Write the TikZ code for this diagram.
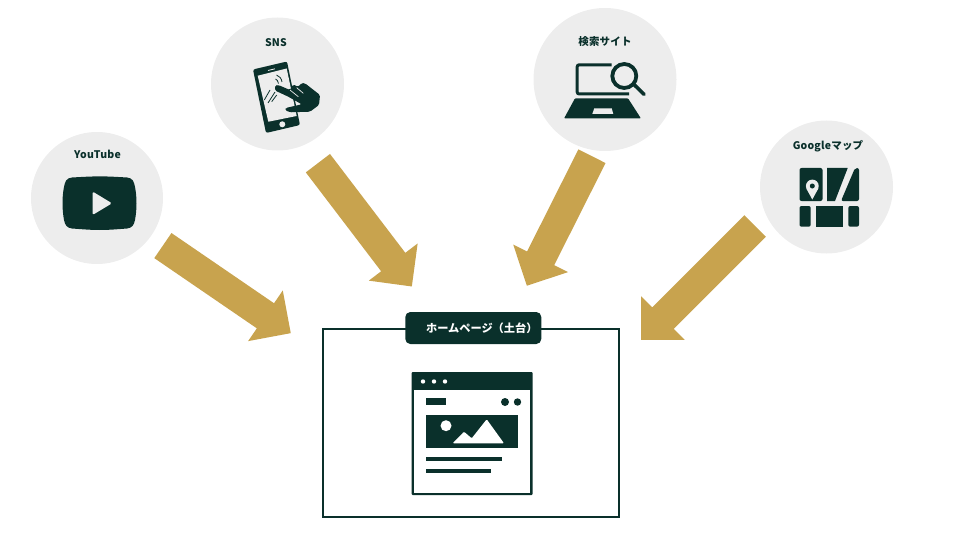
\documentclass[tikz,border=0pt]{standalone}
\usepackage{fontspec}
\setmainfont{Noto Sans CJK JP}
\usetikzlibrary{shapes.arrows, positioning}
\definecolor{darkgreen}{HTML}{0A302B}
\definecolor{gold}{HTML}{C8A34E}
\definecolor{pale}{HTML}{EDEDED}
\tikzstyle{site} = [circle, fill=pale, inner sep=0pt]
\tikzstyle{sitename} = [text=darkgreen, font=\bfseries\fontsize{10.5}{12}\selectfont\addfontfeature{LetterSpace=2}, inner sep=0pt]
\tikzstyle{bigarrow} = [single arrow, fill=gold, anchor=tip, inner xsep=0pt, inner ysep=15pt, minimum width=61pt, single arrow head extend=15.5pt, single arrow tip angle=90]
\tikzstyle{tab} = [rectangle, rounded corners=5pt, fill=darkgreen, text=white, font=\bfseries\fontsize{11.2}{13}\selectfont, minimum width=136pt, minimum height=32pt, inner sep=0pt]
\tikzstyle{panel} = [rectangle, draw=darkgreen, line width=2pt, inner sep=0pt]
\begin{document}
\begin{tikzpicture}[x=1pt, y=-1pt]
\useasboundingbox (0,0) rectangle (960,540);

\node (youtube) [site, minimum size=132pt] at (97,198) {};
\node (sns) [site, minimum size=133pt] at (277.5,84) {};
\node (search) [site, minimum size=143pt] at (605,79.5) {};
\node (gmap) [site, minimum size=133pt] at (826.5,187) {};

\node (youtubename) [sitename] at (97.5,154.5) {YouTube};
\node (snsname) [sitename] at (276,42.5) {SNS};
\node (searchname) [sitename] at (605,42) {検索サイト};
\node (gmapname) [sitename] at (828,146) {Googleマップ};

\node (arrow1) [bigarrow, minimum height=155pt, rotate=-34.4] at (291,333.3) {};
\node (arrow2) [bigarrow, minimum height=155pt, rotate=-52.7] at (412,286.7) {};
\node (arrow3) [bigarrow, minimum height=145pt, rotate=-116.7] at (526.7,286) {};
\node (arrow4) [bigarrow, minimum height=161pt, rotate=-135] at (641,340) {};

\node (home) [panel, minimum width=296.6pt, minimum height=188.2pt] at (471,422.9) {};
\node (hometab) [tab] at (473.3,328) {\hspace*{17pt}ホームページ（土台）};

% youtube icon
\fill [darkgreen] (72,177.5) .. controls (98,176) and (102,176) .. (127,177.5) .. controls (133,178) and (134,182) .. (135,187) .. controls (137,197) and (137,209) .. (135,220) .. controls (134,225) and (132,228) .. (127,228.5) .. controls (102,230.5) and (98,230.5) .. (72,228.5) .. controls (67,228) and (65,225) .. (64,220) .. controls (62,209) and (62,197) .. (64,187) .. controls (65,182) and (66,178) .. (72,177.5) -- cycle;
\fill [pale, rounded corners=1.5pt] (92.5,191.5) -- (112,203.3) -- (92.5,215) -- cycle;

% phone icon
\fill [darkgreen, rounded corners=2pt] (253,69.5) -- (287,61.5) -- (300,125) -- (266,133) -- cycle;
\fill [pale] (257.7,75.7) -- (286.7,68.5) -- (296.7,116) -- (268.3,121.7) -- cycle;
\fill [pale] (282.3,124.3) circle (3pt);
\draw [pale, line width=0.8pt] (268,70.5) -- (275,68.8);
\draw [darkgreen, line width=0.8pt] (276.5,75) .. controls (279.5,76) and (281.5,78.5) .. (282,82);
\draw [darkgreen, line width=0.8pt] (275.5,79) .. controls (277,79.5) and (278,81) .. (278.5,83.5);
\draw [darkgreen, line width=0.8pt] (264.3,100) -- (270,90) (268,103) -- (275,92) (271.7,101.7) -- (276.7,95);
\fill [darkgreen, rounded corners=1.5pt] (275,85.5) -- (278.3,85) -- (290,90) -- (293.3,84.3) -- (298,87) -- (301.7,83) -- (305,83.3) -- (320,95) -- (319,105) -- (310,111.7) -- (290,112.3) -- (285,110) -- (285.7,108) -- (301.7,104.3) -- (288.3,96.7) -- (275,90.5) -- cycle;
\draw [pale, line width=0.7pt] (290,90) -- (298.3,96.7) (296.7,87.7) -- (303.3,93.3);

% search icon
\draw [darkgreen, line width=3pt, rounded corners=2pt] (611.7,64.8) -- (577.2,64.8) -- (577.2,94) -- (629,94);
\draw [darkgreen, line width=3.8pt] (624.3,76) circle (12pt);
\draw [darkgreen, line width=3.6pt, line cap=round] (634.5,85) -- (644,94.3);
\fill [darkgreen, rounded corners=1pt] (575,98.3) -- (628,98.3) -- (641,118.5) -- (564,118.5) -- cycle;
\fill [pale] (594.3,108.3) -- (611.7,108.3) -- (613.3,114) -- (592.3,114) -- cycle;

% map icon
\fill [darkgreen, rounded corners=2pt] (799.5,168) rectangle (822.5,201);
\fill [darkgreen] (827,168) -- (847.7,168) -- (835,201) -- (827,201) -- cycle;
\fill [darkgreen, rounded corners=2pt] (855,168) -- (859,168) -- (859,201) -- (841,201) -- cycle;
\fill [darkgreen, rounded corners=2pt] (799.5,206) rectangle (810.7,226.7);
\fill [darkgreen] (815.7,206) rectangle (843.3,226.7);
\fill [darkgreen, rounded corners=2pt] (848.3,206) rectangle (859,226.7);
\fill [pale] (812.3,186) circle (6.4pt);
\fill [pale] (812.3,199.5) -- (806.3,188.5) -- (818.3,188.5) -- cycle;
\fill [darkgreen] (812.3,186) circle (2.5pt);

% page icon
\fill [darkgreen, rounded corners=1pt] (411.5,372) rectangle (532.5,495);
\fill [white] (414,390) rectangle (530,492.5);
\foreach \dotx in {423,434,445} \fill [white] (\dotx,381.5) circle (2.2pt);
\fill [darkgreen] (426,398) rectangle (445.5,405);
\fill [darkgreen] (505,402) circle (4pt) (517.5,402) circle (3.7pt);
\fill [darkgreen] (426,414.5) rectangle (517.5,447.5);
\fill [white] (446,425.7) circle (5.5pt);
\fill [white, rounded corners=1pt] (452.7,443.3) -- (464,431.7) -- (471.7,438.3) -- (486.7,419.3) -- (504,443.3) -- cycle;
\fill [darkgreen] (426,456.5) rectangle (501.5,461);
\fill [darkgreen] (426,468.5) rectangle (490.5,473);
\end{tikzpicture}
\end{document}
